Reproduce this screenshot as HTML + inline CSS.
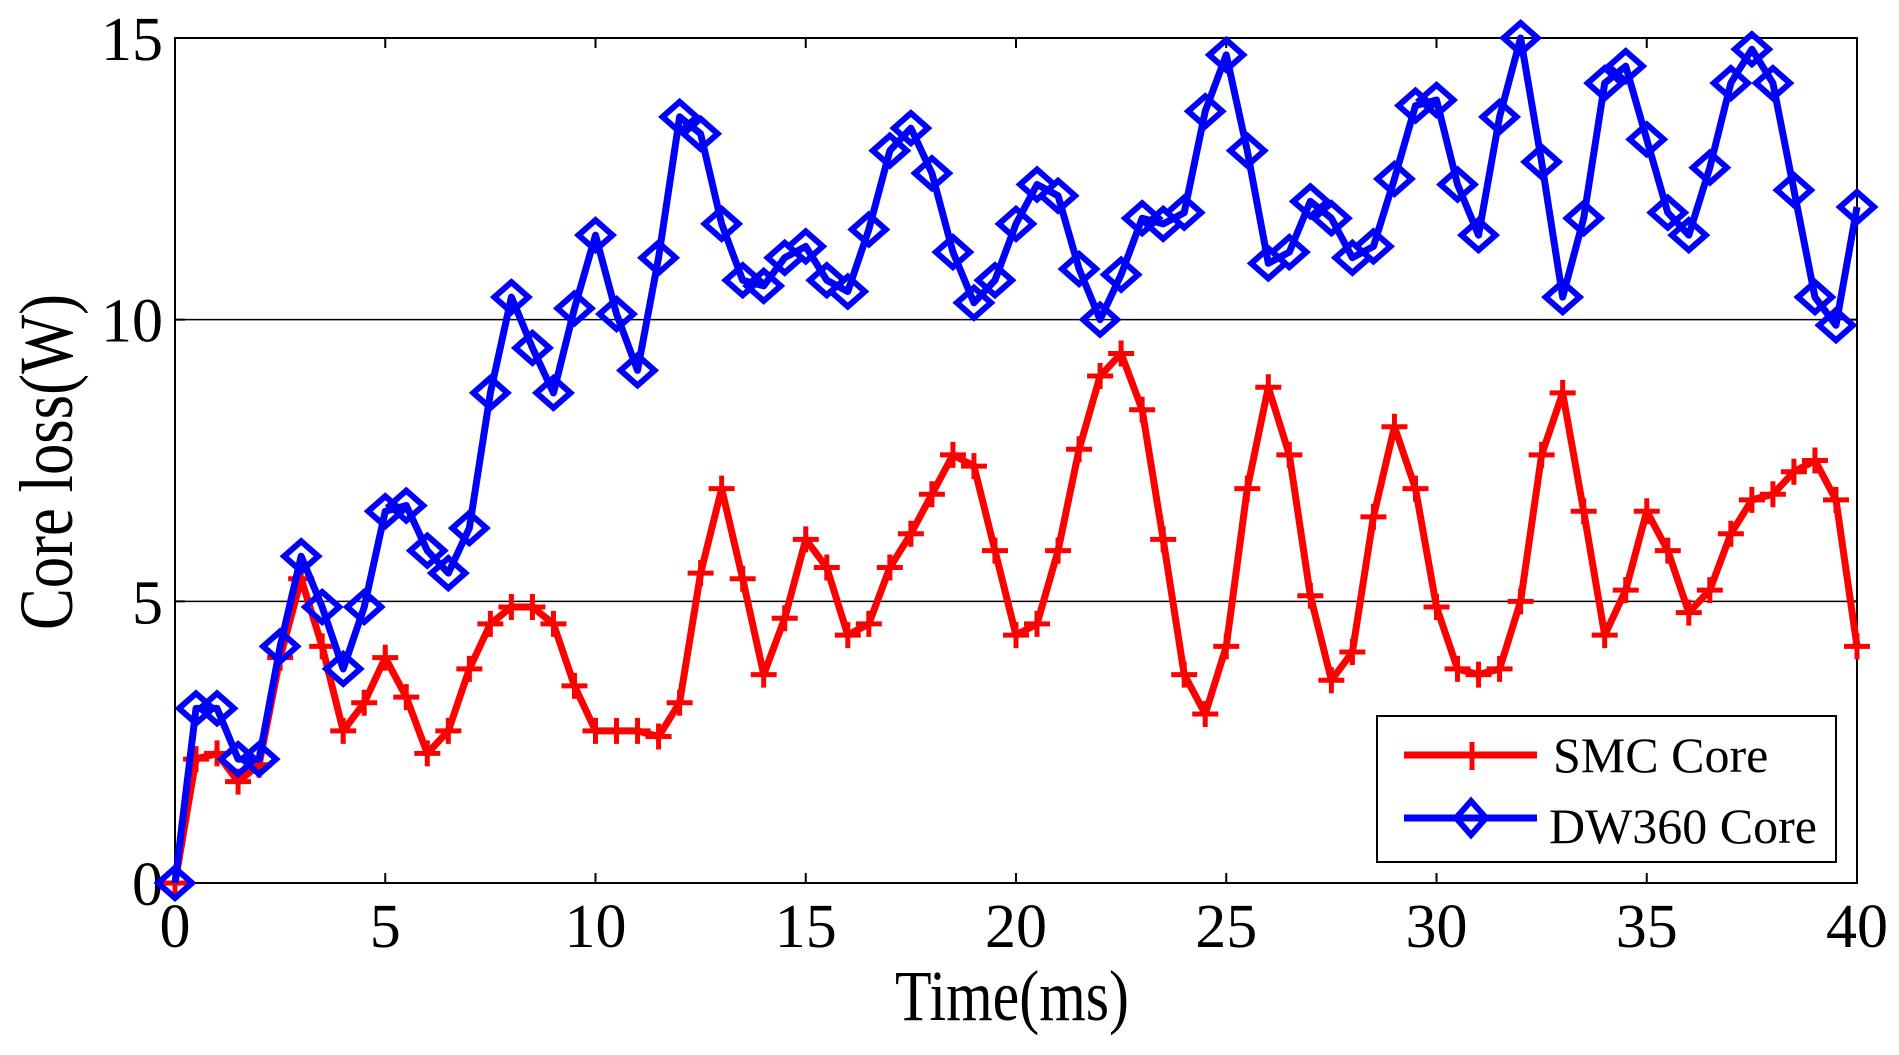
<!DOCTYPE html>
<html><head><meta charset="utf-8"><style>
html,body{margin:0;padding:0;background:#fff;}
svg{display:block;font-family:"Liberation Serif",serif;}
</style></head><body>
<svg id="chart" width="1899" height="1055" viewBox="0 0 1899 1055">
<g id="grid"></g>
<g id="axes"></g>
<g id="series"></g>
<text x="1012" y="1020" font-size="72" text-anchor="middle" textLength="234" lengthAdjust="spacingAndGlyphs">Time(ms)</text>
<text transform="translate(72,462) rotate(-90)" font-size="76" text-anchor="middle" textLength="336" lengthAdjust="spacingAndGlyphs">Core loss(W)</text>
<g>
<rect x="1377" y="716" width="459" height="146" fill="#fff" stroke="#000" stroke-width="2"/>
<g>
<line x1="1404" y1="755" x2="1537" y2="755" stroke="#ff0000" stroke-width="7"/>
<path d="M1459 755h26M1472 742v28" stroke="#ff0000" stroke-width="5"/>
<text x="1553" y="772" font-size="50">SMC Core</text>
</g>
<g>
<line x1="1404" y1="818" x2="1537" y2="818" stroke="#0000ff" stroke-width="7"/>
<path d="M1471 801l15 17l-15 17l-15-17z" fill="none" stroke="#0000ff" stroke-width="6"/>
<text x="1549" y="843" font-size="50">DW360 Core</text>
</g>
</g>
</svg>
<script>
const xTicks=[0,5,10,15,20,25,30,35,40];
const yTicks=[0,5,10,15];
const timeMs=[0,0.5,1,1.5,2,2.5,3,3.5,4,4.5,5,5.5,6,6.5,7,7.5,8,8.5,9,9.5,10,10.5,11,11.5,12,12.5,13,13.5,14,14.5,15,15.5,16,16.5,17,17.5,18,18.5,19,19.5,20,20.5,21,21.5,22,22.5,23,23.5,24,24.5,25,25.5,26,26.5,27,27.5,28,28.5,29,29.5,30,30.5,31,31.5,32,32.5,33,33.5,34,34.5,35,35.5,36,36.5,37,37.5,38,38.5,39,39.5,40];
const smcLoss=[0,2.2,2.3,1.8,2.1,4.0,5.4,4.2,2.7,3.2,4.0,3.3,2.3,2.7,3.8,4.6,4.9,4.9,4.6,3.5,2.7,2.7,2.7,2.6,3.2,5.5,7.0,5.4,3.7,4.7,6.1,5.6,4.4,4.6,5.6,6.2,6.9,7.6,7.4,5.9,4.4,4.6,5.9,7.7,9.0,9.4,8.4,6.1,3.7,3.0,4.2,7.0,8.8,7.6,5.1,3.6,4.1,6.5,8.1,7.0,4.9,3.8,3.7,3.8,5.0,7.6,8.7,6.6,4.4,5.2,6.6,5.9,4.8,5.2,6.2,6.8,6.9,7.3,7.5,6.8,4.2];
const dw360Loss=[0,3.1,3.1,2.2,2.2,4.2,5.8,4.9,3.8,4.9,6.6,6.7,5.9,5.5,6.3,8.7,10.4,9.5,8.7,10.2,11.5,10.1,9.1,11.1,13.6,13.3,11.7,10.7,10.6,11.1,11.3,10.7,10.5,11.6,13.0,13.4,12.6,11.2,10.3,10.7,11.7,12.4,12.2,10.9,10.0,10.8,11.8,11.7,11.9,13.7,14.7,13.0,11.0,11.2,12.1,11.8,11.1,11.3,12.5,13.8,13.9,12.4,11.5,13.6,15.0,12.8,10.4,11.8,14.2,14.5,13.2,11.9,11.5,12.7,14.2,14.8,14.2,12.3,10.4,9.9,12.0];
const L=175,R=1857,T=38,B=883;
const xs=v=>L+(v-0)/(40-0)*(R-L);
const ys=v=>B-(v-0)/(15-0)*(B-T);
const NS='http://www.w3.org/2000/svg';
function mk(tag,attrs,parent){const e=document.createElementNS(NS,tag);for(const k in attrs)e.setAttribute(k,attrs[k]);parent.appendChild(e);return e;}
const grid=document.getElementById('grid'),axes=document.getElementById('axes'),series=document.getElementById('series');
yTicks.forEach(v=>{
  if(v>0&&v<15){const g=mk('line',{x1:L,x2:R,y1:ys(v),y2:ys(v),stroke:'#000','stroke-width':1.5},grid);
  
  }
  mk('line',{x1:L,x2:L+10,y1:ys(v),y2:ys(v),stroke:'#000','stroke-width':2},axes);
  mk('line',{x1:R,x2:R-10,y1:ys(v),y2:ys(v),stroke:'#000','stroke-width':2},axes);
  const t=mk('text',{x:163,y:ys(v)+22,'font-size':62,'text-anchor':'end'},axes);
  t.textContent=v;
  
  
});
xTicks.forEach(v=>{
  mk('line',{x1:xs(v),x2:xs(v),y1:B,y2:B-10,stroke:'#000','stroke-width':2},axes);
  mk('line',{x1:xs(v),x2:xs(v),y1:T,y2:T+10,stroke:'#000','stroke-width':2},axes);
  const t=mk('text',{x:xs(v),y:947,'font-size':62,'text-anchor':'middle'},axes);
  t.textContent=v;
  
  
});
const box=mk('rect',{x:L,y:T,width:R-L,height:B-T,fill:'none',stroke:'#000','stroke-width':2},axes);


function draw(vals,color,kind,name){
  const pts=timeMs.map((t,i)=>xs(t)+','+ys(vals[i])).join(' ');
  const pl=mk('polyline',{points:pts,fill:'none',stroke:color,'stroke-width':7,'stroke-linejoin':'round'},series);
  
  
  timeMs.forEach((t,i)=>{
    const x=xs(t),y=ys(vals[i]);let m;
    if(kind==='plus'){m=mk('path',{d:`M${x-13} ${y}h26M${x} ${y-13}v26`,stroke:color,'stroke-width':5,fill:'none'},series);}
    else{m=mk('path',{d:`M${x} ${y-15}l17 15l-17 15l-17-15z`,stroke:color,'stroke-width':6,fill:'none'},series);}
    
    
  });
}
draw(smcLoss,'#ff0000','plus','smc-core');
draw(dw360Loss,'#0000ff','diamond','dw360-core');
</script>
</body></html>
